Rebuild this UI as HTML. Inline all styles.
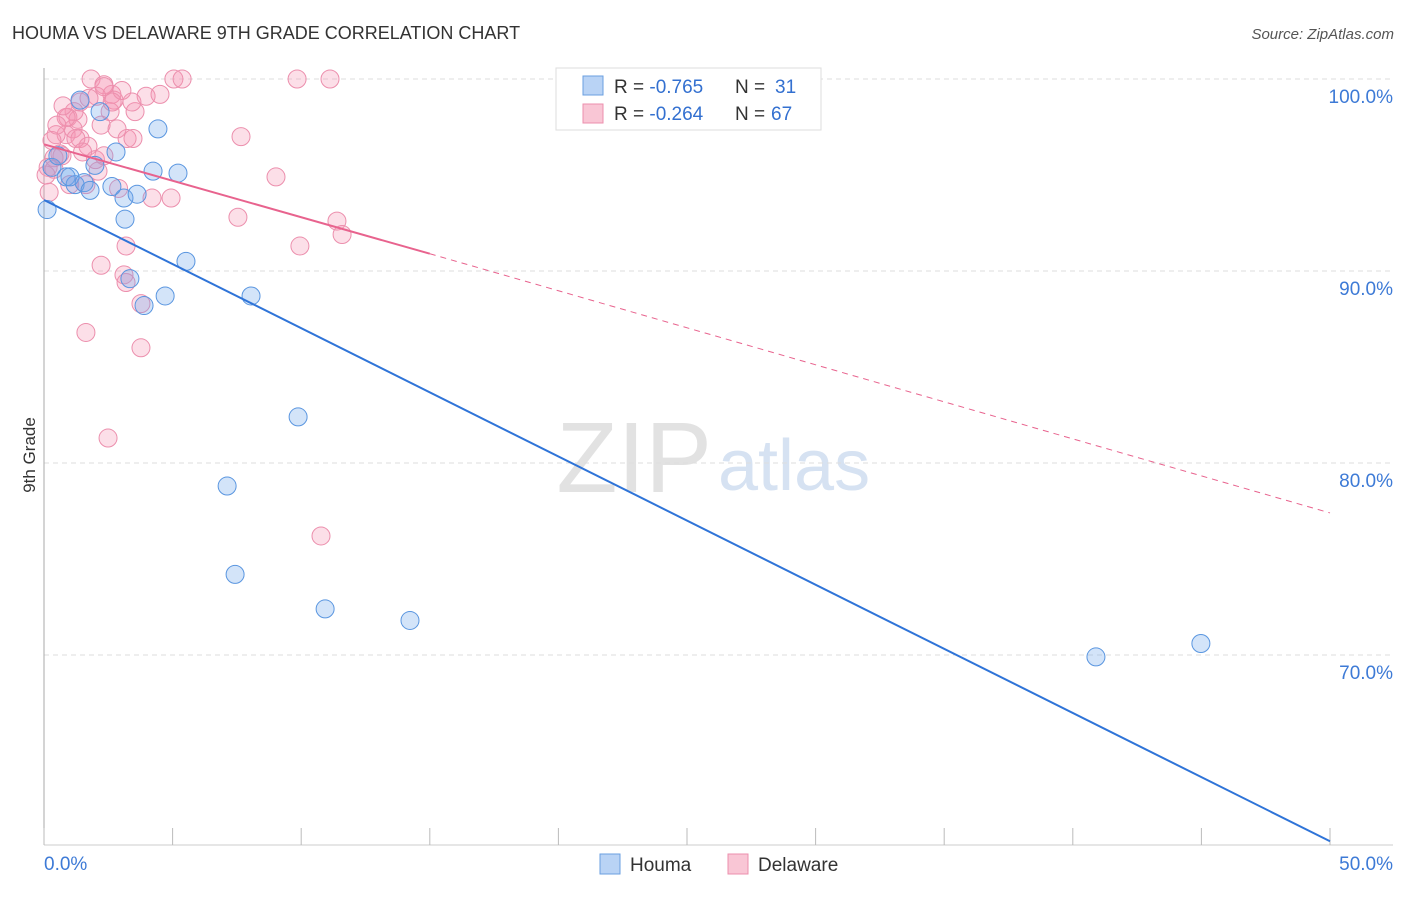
<!DOCTYPE html>
<html><head><meta charset="utf-8"><style>
body{margin:0;background:#fff;font-family:"Liberation Sans",sans-serif}
svg text{font-family:"Liberation Sans",sans-serif}
</style></head><body>
<svg id="c" width="1406" height="892">
<text x="12" y="39" font-size="18" fill="#333">HOUMA VS DELAWARE 9TH GRADE CORRELATION CHART</text>
<text x="1394" y="39" font-size="15" fill="#555" font-style="italic" text-anchor="end">Source: ZipAtlas.com</text>
<text x="35" y="455" font-size="17" fill="#333" transform="rotate(-90 35 455)" text-anchor="middle">9th Grade</text>
<text x="712" y="492" font-size="100" fill="#e2e2e2" text-anchor="end" font-family="Liberation Serif">ZIP</text>
<text x="718" y="490" font-size="72" fill="#d6e2f2">atlas</text>
<g id="grid"></g><g id="axes"></g><g id="pts"></g><g id="lines"></g>
<g>
<rect x="556" y="68" width="265" height="62" fill="#fff" stroke="#ddd"/>
<rect x="583" y="76" width="20" height="19" fill="#b9d3f5" stroke="#6a9fe0"/>
<rect x="583" y="104" width="20" height="19" fill="#f9c6d5" stroke="#ec8fad"/>
<text x="614" y="93" font-size="19" fill="#333">R = <tspan fill="#3370d0">-0.765</tspan><tspan x="735">N = </tspan><tspan fill="#3370d0" x="775">31</tspan></text>
<text x="614" y="120" font-size="19" fill="#333">R = <tspan fill="#3370d0">-0.264</tspan><tspan x="735">N = </tspan><tspan fill="#3370d0" x="771">67</tspan></text>
</g>
<g>
<rect x="600" y="854" width="20" height="20" fill="#b9d3f5" stroke="#6a9fe0"/>
<text x="630" y="871" font-size="19" fill="#333">Houma</text>
<rect x="728" y="854" width="20" height="20" fill="#f9c6d5" stroke="#ec8fad"/>
<text x="758" y="871" font-size="19" fill="#333">Delaware</text>
</g>
</svg>
<script>
const yTicks=[100,90,80,70];
const xTickLabels=["0.0%","50.0%"];
const blueX=[0.12,0.31,0.54,0.86,1.21,1.01,1.56,1.79,1.98,1.4,2.18,2.8,2.64,3.11,3.15,3.62,3.34,3.89,4.71,4.24,4.43,5.21,5.52,8.05,9.88,7.12,7.43,10.93,14.23,40.9,44.98];
const blueY=[93.2,95.4,96.0,94.9,94.5,94.9,94.6,94.2,95.5,98.9,98.3,96.2,94.4,93.8,92.7,94.0,89.6,88.2,88.7,95.2,97.4,95.1,90.5,88.7,82.4,78.8,74.2,72.4,71.8,69.9,70.6];
const pinkX=[1.83,2.33,2.64,1.4,1.17,0.93,2.05,2.72,2.57,1.32,1.13,0.86,0.47,0.62,0.39,0.16,0.31,1.4,1.71,2.22,2.84,3.23,3.46,3.54,3.97,4.51,5.05,5.37,9.84,11.12,7.66,9.02,4.94,7.54,11.39,11.59,9.95,3.19,2.22,3.11,3.19,3.77,3.77,1.63,2.49,10.77,1.75,0.39,0.08,2.33,3.03,3.42,2.65,2.1,0.86,1.24,0.74,1.63,2.0,2.33,0.7,0.5,1.5,0.2,1.0,2.9,4.2];
const pinkY=[100,99.7,99.2,98.8,98.3,98.0,99.1,98.9,98.3,97.9,97.4,97.1,97.1,96.1,95.9,95.4,96.8,96.9,96.5,97.6,97.4,96.9,96.9,98.3,99.1,99.2,100,100,100,100,97.0,94.9,93.8,92.8,92.6,91.9,91.3,91.3,90.3,89.8,89.4,88.3,86.0,86.8,81.3,76.2,99.0,95.3,95.0,99.6,99.4,98.8,98.8,95.2,98.0,96.9,98.6,94.5,95.8,96.0,96.0,97.6,96.2,94.1,94.5,94.3,93.8];
const X0=44,X1=1330,Y100=79,PPU=19.2;
const sx=v=>X0+(v/50)*(X1-X0), sy=v=>Y100+(100-v)*PPU;
const NS="http://www.w3.org/2000/svg";
function mk(t,a,p){const e=document.createElementNS(NS,t);for(const k in a)e.setAttribute(k,a[k]);p.appendChild(e);return e;}
const grid=document.getElementById('grid'),axes=document.getElementById('axes'),pts=document.getElementById('pts'),lines=document.getElementById('lines');
yTicks.forEach(v=>{
 const l=mk('line',{x1:44,x2:1393,y1:sy(v),y2:sy(v),stroke:'#ddd','stroke-dasharray':'5,4'},grid);
 
 
 const t=mk('text',{x:1393,y:sy(v)+24,'font-size':19,fill:'#3d7ad6','text-anchor':'end'},grid);t.textContent=v.toFixed(1)+'%';
 
 
});
mk('line',{x1:44,x2:44,y1:68,y2:845,stroke:'#aaa'},axes);
mk('line',{x1:44,x2:1393,y1:845,y2:845,stroke:'#ccc'},axes);
for(let i=0;i<=10;i++){const x=sx(i*5);mk('line',{x1:x,x2:x,y1:828,y2:845,stroke:'#bbb'},axes);}
const tl=mk('text',{x:44,y:870,'font-size':19,fill:'#3d7ad6'},axes);tl.textContent=xTickLabels[0];


const tr=mk('text',{x:1393,y:870,'font-size':19,fill:'#3d7ad6','text-anchor':'end'},axes);tr.textContent=xTickLabels[1];


pinkX.forEach((x,i)=>{const c=mk('circle',{cx:sx(x),cy:sy(pinkY[i]),r:9,fill:'rgba(244,150,180,0.3)',stroke:'#ec8fad','stroke-width':1},pts);
 
 });
blueX.forEach((x,i)=>{const c=mk('circle',{cx:sx(x),cy:sy(blueY[i]),r:9,fill:'rgba(110,165,235,0.3)',stroke:'#5a96e0','stroke-width':1},pts);
 
 });
const bl=mk('line',{x1:sx(0),y1:sy(93.7),x2:sx(50),y2:sy(60.3),stroke:'#2f74d8','stroke-width':2},lines);


const pl=mk('line',{x1:sx(0),y1:sy(96.6),x2:sx(15),y2:sy(90.9),stroke:'#e8638e','stroke-width':2},lines);


const pd=mk('line',{x1:sx(15),y1:sy(90.9),x2:sx(50),y2:sy(77.4),stroke:'#e8638e','stroke-width':1,'stroke-dasharray':'6,5'},lines);


</script>
</body></html>
